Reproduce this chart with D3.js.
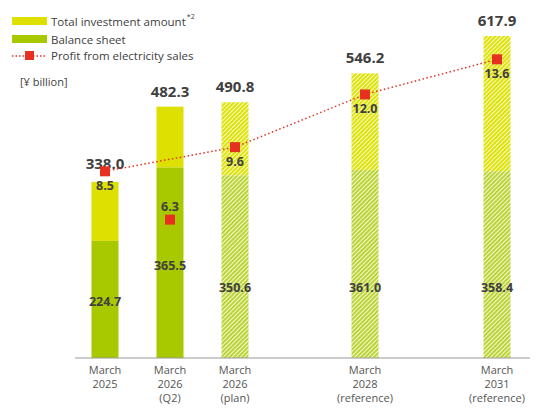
<!DOCTYPE html>
<html><head><meta charset="utf-8">
<script src="https://cdn.jsdelivr.net/npm/d3@7"></script>
<style>body{margin:0;background:#fff;font-family:"Open Sans",sans-serif}</style>
</head><body><svg id="c" width="543" height="412"></svg>
<script>
// data
var categories = ["March 2025", "March 2026 (Q2)", "March 2026 (plan)", "March 2028 (reference)", "March 2031 (reference)"];
var tickLines = [["March","2025"],["March","2026","(Q2)"],["March","2026","(plan)"],["March","2028","(reference)"],["March","2031","(reference)"]];
var totalInvestment = [338.0, 482.3, 490.8, 546.2, 617.9];
var balanceSheet = [224.7, 365.5, 350.6, 361.0, 358.4];
var profit = [8.5, 6.3, 9.6, 12.0, 13.6];
var isPlan = [false, false, true, true, true];
var xPos = [105, 170, 235, 365, 497];

var svg = d3.select("#c");
var base = 358;
var y = d3.scaleLinear().domain([0, 687]).range([base, 0]);
var yp = d3.scaleLinear().domain([0, 16.3]).range([base, 0]);
var x = d3.scaleOrdinal().domain(categories).range(xPos);
var bw = 27;
var txt = "#404040";

// hatch patterns
var defs = svg.append("defs");
function hatch(id, col) {
  var p = defs.append("pattern").attr("id", id).attr("patternUnits", "userSpaceOnUse")
    .attr("width", 3).attr("height", 3).attr("patternTransform", "rotate(45)");
  p.append("rect").attr("width", 3).attr("height", 3).attr("fill", "#f6f8c8");
  p.append("rect").attr("width", 1.9).attr("height", 3).attr("fill", col);
}
hatch("hTop", "#dde200");
hatch("hBot", "#b8d235");

// legend
var lg = svg.append("g").attr("font-size", 11.5).attr("fill", txt);
lg.append("rect").attr("x", 12).attr("y", 17).attr("width", 35).attr("height", 8).attr("fill", "#dde000");
var tl = lg.append("text").attr("x", 51).attr("y", 26).attr("fill", txt).text("Total investment amount");
var tw = tl.node().getComputedTextLength();
lg.append("text").attr("x", 51 + tw + 1).attr("y", 19).attr("font-size", 7).attr("fill", txt).text("*2");
lg.append("rect").attr("x", 12).attr("y", 35).attr("width", 35).attr("height", 8).attr("fill", "#a8c800");
lg.append("text").attr("x", 51).attr("y", 44).attr("fill", txt).text("Balance sheet");
lg.append("line").attr("x1", 12).attr("x2", 47).attr("y1", 56).attr("y2", 56).attr("stroke", "#e03020").attr("stroke-width", 1.5).attr("stroke-dasharray", "1.5,2");
lg.append("rect").attr("x", 25).attr("y", 51).attr("width", 9).attr("height", 9).attr("fill", "#e63020");
lg.append("text").attr("x", 51).attr("y", 60).attr("fill", txt).text("Profit from electricity sales");
svg.append("text").attr("x", 20).attr("y", 86).attr("font-size", 11).attr("fill", txt).text("[¥ billion]");

// bars
categories.forEach(function(c, i) {
  var cx = x(c);
  svg.append("rect").attr("x", cx - bw / 2).attr("width", bw)
    .attr("y", y(totalInvestment[i])).attr("height", y(balanceSheet[i]) - y(totalInvestment[i]))
    .attr("fill", isPlan[i] ? "url(#hTop)" : "#dde000");
  svg.append("rect").attr("x", cx - bw / 2).attr("width", bw)
    .attr("y", y(balanceSheet[i])).attr("height", base - y(balanceSheet[i]))
    .attr("fill", isPlan[i] ? "url(#hBot)" : "#a8c800");
  svg.append("text").attr("x", cx).attr("y", y(totalInvestment[i]) - (i === 0 ? 13 : 10)).attr("text-anchor", "middle")
    .attr("font-size", 15).attr("font-weight", "bold").attr("fill", txt).text(totalInvestment[i].toFixed(1));
  var ly = i === 0 ? 306 : i === 1 ? 270 : 292;
  svg.append("text").attr("x", cx).attr("y", ly).attr("text-anchor", "middle")
    .attr("font-size", 12.5).attr("font-weight", "bold").attr("fill", txt).text(balanceSheet[i].toFixed(1));
  var t = svg.append("text").attr("text-anchor", "middle").attr("font-size", 11).attr("fill", "#555");
  tickLines[i].forEach(function(s, k) {
    t.append("tspan").attr("x", cx).attr("y", 374 + k * 14).text(s);
  });
});

// axis
svg.append("line").attr("x1", 75).attr("x2", 530).attr("y1", base).attr("y2", base).attr("stroke", "#999");

// profit line (Q2 is off the line)
var lineIdx = [0, 2, 3, 4];
svg.append("path").datum(lineIdx)
  .attr("d", d3.line().x(function(i) { return x(categories[i]); }).y(function(i) { return yp(profit[i]); }))
  .attr("fill", "none").attr("stroke", "#e03020").attr("stroke-width", 1.5).attr("stroke-dasharray", "1.5,2.5");
profit.forEach(function(v, i) {
  var cx = x(categories[i]), cy = yp(v);
  svg.append("rect").attr("x", cx - 5).attr("y", cy - 5).attr("width", 10).attr("height", 10).attr("fill", "#e63020");
  svg.append("text").attr("x", cx).attr("y", i === 1 ? cy - 9 : cy + 19).attr("text-anchor", "middle")
    .attr("font-size", 12.5).attr("font-weight", "bold").attr("fill", txt).text(v.toFixed(1));
});
</script></body></html>
